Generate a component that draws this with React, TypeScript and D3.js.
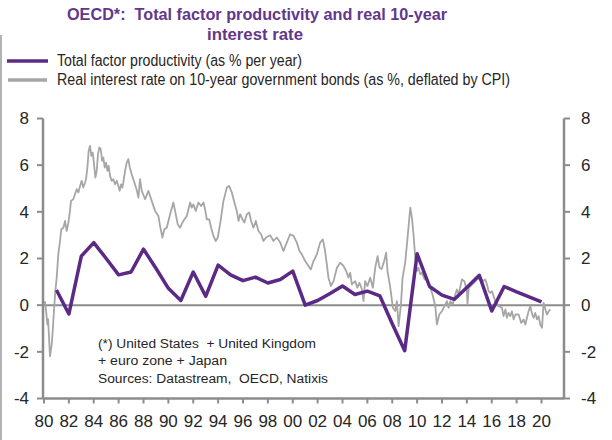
import React from 'react';
import * as d3 from 'd3';

const tfpYears = [1981, 1982, 1983, 1984, 1985, 1986, 1987, 1988, 1989, 1990, 1991, 1992, 1993, 1994, 1995, 1996, 1997, 1998, 1999, 2000, 2001, 2002, 2003, 2004, 2005, 2006, 2007, 2008, 2009, 2010, 2011, 2012, 2013, 2014, 2015, 2016, 2017, 2018, 2019, 2020];
const tfpValues = [0.65, -0.38, 2.1, 2.68, 2.0, 1.3, 1.42, 2.4, 1.58, 0.72, 0.2, 1.42, 0.38, 1.72, 1.3, 1.05, 1.2, 0.95, 1.1, 1.46, 0.0, 0.2, 0.5, 0.82, 0.46, 0.6, 0.4, -0.8, -1.95, 2.2, 0.8, 0.43, 0.25, 0.76, 1.28, -0.25, 0.8, 0.57, 0.36, 0.14];

const rateDates = [
  1980.0, 1980.08, 1980.18, 1980.27, 1980.33, 1980.38, 1980.48, 1980.56, 1980.62, 1980.7, 1980.8, 1980.91,
  1981.02, 1981.15, 1981.29, 1981.39, 1981.56, 1981.69, 1981.82, 1981.96, 1982.09, 1982.17, 1982.36, 1982.49,
  1982.63, 1982.76, 1982.9, 1983.03, 1983.16, 1983.3, 1983.38, 1983.49, 1983.59, 1983.7, 1983.81, 1983.92,
  1984.02, 1984.13, 1984.24, 1984.34, 1984.45, 1984.56, 1984.67, 1984.77, 1984.88, 1984.99, 1985.1, 1985.2,
  1985.31, 1985.44, 1985.58, 1985.71, 1985.85, 1985.98, 1986.08, 1986.2, 1986.3, 1986.38, 1986.52, 1986.65,
  1986.78, 1986.9, 1987.05, 1987.3, 1987.45, 1987.59, 1987.72, 1987.86, 1988.13, 1988.39, 1988.66, 1988.93,
  1989.2, 1989.33, 1989.52, 1989.68, 1989.87, 1990.14, 1990.4, 1990.54, 1990.75, 1990.94, 1991.2, 1991.48,
  1991.75, 1991.88, 1992.01, 1992.2, 1992.41, 1992.63, 1992.82, 1992.95, 1993.09, 1993.28, 1993.44, 1993.62,
  1993.81, 1993.97, 1994.16, 1994.43, 1994.7, 1994.88, 1995.1, 1995.31, 1995.5, 1995.64, 1995.77, 1995.96,
  1996.11, 1996.31, 1996.5, 1996.65, 1996.84, 1997.03, 1997.24, 1997.46, 1997.64, 1997.85, 1998.18, 1998.45,
  1998.72, 1998.98, 1999.25, 1999.52, 1999.79, 2000.06, 2000.33, 2000.54, 2000.73, 2001.0, 2001.27, 2001.45,
  2001.67, 2001.94, 2002.2, 2002.42, 2002.6, 2002.74, 2002.87, 2003.07, 2003.28, 2003.55, 2003.81, 2004.08,
  2004.3, 2004.48, 2004.62, 2004.75, 2005.02, 2005.2, 2005.36, 2005.56, 2005.69, 2005.82, 2006.01, 2006.23,
  2006.44, 2006.63, 2006.82, 2006.98, 2007.15, 2007.35, 2007.51, 2007.62, 2007.84, 2008.05, 2008.24, 2008.37,
  2008.51, 2008.7, 2008.83, 2009.04, 2009.25, 2009.45, 2009.58, 2009.71, 2009.85, 2009.98, 2010.11, 2010.25,
  2010.38, 2010.6, 2010.79, 2010.92, 2011.06, 2011.24, 2011.46, 2011.59, 2011.78, 2011.99, 2012.2, 2012.4,
  2012.53, 2012.67, 2012.85, 2013.07, 2013.2, 2013.34, 2013.6, 2013.8, 2014.0, 2014.05, 2014.15, 2014.41,
  2014.81, 2015.08, 2015.3, 2015.48, 2015.62, 2015.75, 2015.88, 2016.02, 2016.28, 2016.55, 2016.82, 2016.95,
  2017.1, 2017.22, 2017.35, 2017.49, 2017.62, 2017.76, 2017.9, 2018.16, 2018.37, 2018.55, 2018.7, 2018.96,
  2019.1, 2019.25, 2019.37, 2019.5, 2019.64, 2019.77, 2019.9, 2020.04, 2020.17, 2020.31, 2020.44, 2020.58,
  2020.71
];
const rateValues = [
  0.1, 0.14, -0.3, -0.83, -0.6, -1.12, -2.19, -1.9, -1.68, -1.1, -0.26, 0.6,
  1.17, 2.18, 2.75, 3.25, 3.32, 3.61, 3.18, 3.54, 4.04, 4.47, 4.54, 4.75,
  4.97, 4.83, 5.11, 5.33, 5.04, 5.26, 5.4, 5.9, 6.61, 6.83, 6.4, 6.54,
  6.04, 5.47, 5.76, 6.47, 6.76, 6.69, 6.19, 6.33, 5.9, 6.11, 5.76, 5.97,
  5.54, 5.33, 5.4, 5.18, 5.33, 5.11, 4.9, 5.18, 5.04, 5.26, 5.76, 6.11,
  6.26, 5.9, 5.61, 5.2, 4.95, 4.61, 5.4, 4.9, 4.54, 4.9, 4.47, 4.04,
  3.82, 3.4, 2.9, 3.25, 3.32, 3.9, 4.4, 4.04, 3.47, 3.32, 3.61, 3.82,
  4.4, 4.18, 4.32, 4.04, 4.4, 4.25, 4.4, 4.11, 3.68, 3.68, 3.32, 2.97,
  2.75, 2.9, 3.47, 4.47, 5.04, 5.11, 4.83, 4.4, 4.04, 3.61, 3.9, 3.68,
  3.54, 3.9, 3.97, 3.61, 3.32, 3.61, 3.18, 3.04, 2.75, 2.9, 3.0, 2.75,
  2.9, 2.7, 2.32, 2.68, 3.04, 2.97, 2.68, 2.32, 2.18, 1.89, 1.68, 1.53,
  1.89, 2.18, 2.68, 2.82, 2.32, 1.75, 1.18, 0.82, 1.03, 1.6, 1.82, 1.68,
  1.46, 1.18, 1.39, 0.89, 1.03, 0.75, 0.96, 0.68, 0.17, 1.03, 0.82, 1.18,
  0.75, 1.6, 2.1, 1.6, 1.55, 1.89, 2.25, 1.46, 0.75, -0.11, -0.25, 0.17,
  -0.9, 0.03, 1.17, 1.82, 3.0, 4.18, 3.75, 3.03, 2.03, 1.46, 1.6, 1.32,
  1.39, 1.1, 1.17, 0.88, 0.74, 0.46, -0.04, -0.83, -0.4, -0.26, -0.04, 0.17,
  -0.11, 0.17, 0.03, 0.46, 0.67, 0.46, 1.1, 1.03, 0.6, 0.05, 0.74, 0.88,
  1.1, 1.17, 1.03, 1.1, 0.88, 0.6, 0.53, 0.6, 0.17, -0.04, -0.11, -0.47,
  -0.18, -0.54, -0.33, -0.47, -0.26, -0.61, -0.4, -0.4, -0.76, -0.61, -0.83, -0.26,
  -0.04, -0.4, -0.54, -0.33, -0.61, -0.47, -0.83, -0.97, 0.1, -0.18, -0.4, -0.26,
  -0.18
];

const xTickYears = [1980, 1982, 1984, 1986, 1988, 1990, 1992, 1994, 1996, 1998, 2000, 2002, 2004, 2006, 2008, 2010, 2012, 2014, 2016, 2018, 2020];
const xTickLabels = ['80', '82', '84', '86', '88', '90', '92', '94', '96', '98', '00', '02', '04', '06', '08', '10', '12', '14', '16', '18', '20'];
const yTicks = [-4, -2, 0, 2, 4, 6, 8];

const titleLine1 = 'OECD*:  Total factor productivity and real 10-year';
const titleLine2 = 'interest rate';
const legendLabels = ['Total factor productivity (as % per year)', 'Real interest rate on 10-year government bonds (as %, deflated by CPI)'];
const noteLines = ['(*) United States  + United Kingdom', '+ euro zone + Japan', 'Sources: Datastream,  OECD, Natixis'];

const PURPLE = '#5b2a86';
const TITLE = '#63378c';
const GRAY = '#a6a6a6';
const AXIS = '#8c8c8c';
const TEXT = '#262626';
const FONT = "'Liberation Sans', Arial, sans-serif";

export default function App() {
  const W = 612, H = 440;
  const leftX = 43, rightX = 564;
  const x = d3.scaleLinear().domain([1980, 2020]).range([44, 541.5]);
  const y = d3.scaleLinear().domain([-4, 8]).range([398.5, 118.5]);

  const line = d3.line<[number, number]>().x(d => x(d[0])).y(d => y(d[1]));
  const tfpPts: [number, number][] = tfpYears.map((yr, i) => [yr, tfpValues[i]]);
  const ratePts: [number, number][] = rateDates.map((yr, i) => [yr, rateValues[i]]);
  const bottom = y(-4);
  const pre = { whiteSpace: 'pre' as const };

  return (
    <svg width={W} height={H} style={{ position: 'absolute', left: 0, top: 0, background: '#fff' }} fontFamily={FONT}>
      <rect x={0} y={0} width={W} height={H} fill="#fff" />
      <line x1={1} y1={35} x2={1} y2={H} stroke="#9a9a9a" strokeWidth={1.5} />

      {/* title */}
      <text x={67} y={19.5} fontSize={17} fontWeight="bold" fill={TITLE} textLength={380} lengthAdjust="spacingAndGlyphs" style={pre}>{titleLine1}</text>
      <text x={207} y={40} fontSize={17} fontWeight="bold" fill={TITLE} textLength={96} lengthAdjust="spacingAndGlyphs">{titleLine2}</text>

      {/* legend */}
      <line x1={7} y1={61} x2={48} y2={61} stroke={PURPLE} strokeWidth={3.5} />
      <text x={57} y={66} fontSize={16} fill={TEXT} textLength={245} lengthAdjust="spacingAndGlyphs">{legendLabels[0]}</text>
      <line x1={8} y1={80} x2={47} y2={80} stroke={GRAY} strokeWidth={3.5} />
      <text x={57} y={85} fontSize={16} fill={TEXT} textLength={453} lengthAdjust="spacingAndGlyphs">{legendLabels[1]}</text>

      {/* zero line */}
      <line x1={leftX} y1={y(0)} x2={rightX} y2={y(0)} stroke={AXIS} strokeWidth={2} />

      {/* series */}
      <path d={line(ratePts) || ''} fill="none" stroke={GRAY} strokeWidth={1.8} strokeLinejoin="round" />
      <path d={line(tfpPts) || ''} fill="none" stroke={PURPLE} strokeWidth={3.5} strokeLinejoin="round" />

      {/* axes */}
      <line x1={leftX} y1={y(8)} x2={leftX} y2={bottom} stroke={AXIS} strokeWidth={2.5} />
      <line x1={rightX} y1={y(8)} x2={rightX} y2={bottom} stroke={AXIS} strokeWidth={2.5} />
      <line x1={leftX} y1={bottom} x2={rightX} y2={bottom} stroke={AXIS} strokeWidth={2.5} />
      {yTicks.map(t => (
        <g key={'y' + t}>
          <line x1={leftX - 6} y1={y(t)} x2={leftX} y2={y(t)} stroke={AXIS} strokeWidth={2} />
          <line x1={rightX} y1={y(t)} x2={rightX + 6} y2={y(t)} stroke={AXIS} strokeWidth={2} />
          <text x={29} y={y(t)} dy="0.35em" textAnchor="end" fontSize={17} fill={TEXT}>{t}</text>
          <text x={581} y={y(t)} dy="0.35em" textAnchor="start" fontSize={17} fill={TEXT}>{t}</text>
        </g>
      ))}
      {xTickYears.map((yr, i) => (
        <g key={'x' + yr}>
          <line x1={x(yr)} y1={bottom} x2={x(yr)} y2={bottom + 5} stroke={AXIS} strokeWidth={2} />
          <text x={x(yr)} y={427} textAnchor="middle" fontSize={17} fill={TEXT}>{xTickLabels[i]}</text>
        </g>
      ))}

      {/* notes */}
      <text x={98} y={348} fontSize={12} fill={TEXT} textLength={218} lengthAdjust="spacingAndGlyphs" style={pre}>{noteLines[0]}</text>
      <text x={98} y={364.5} fontSize={12} fill={TEXT} textLength={129} lengthAdjust="spacingAndGlyphs" style={pre}>{noteLines[1]}</text>
      <text x={98} y={383} fontSize={12} fill={TEXT} textLength={230} lengthAdjust="spacingAndGlyphs" style={pre}>{noteLines[2]}</text>
    </svg>
  );
}
